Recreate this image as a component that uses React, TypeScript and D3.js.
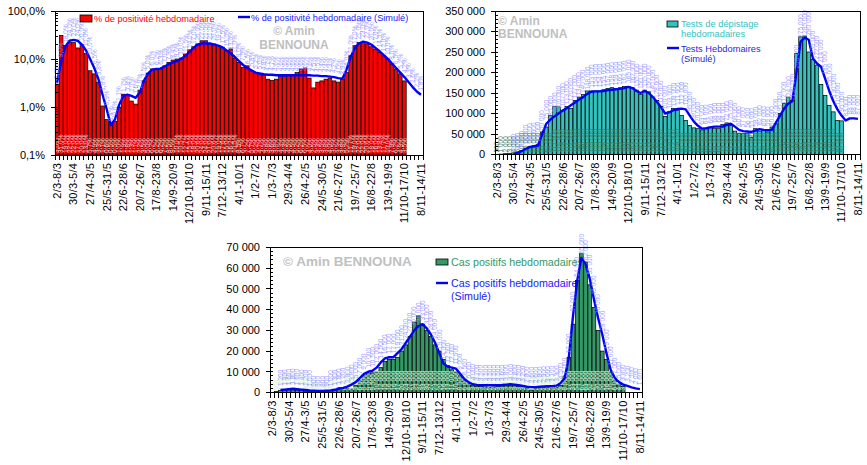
import * as d3 from 'd3'
import { useEffect, useRef } from 'react'

// weekly categories: 2/3/2020 -> 8/11/2021
const WEEK_COUNT = 89;
const TICK_STEP = 4;
const TICK_LABELS = ['2/3-8/3', '30/3-5/4', '27/4-3/5', '25/5-31/5', '22/6-28/6', '20/7-26/7', '17/8-23/8', '14/9-20/9',
    '12/10-18/10', '9/11-15/11', '7/12-13/12', '4/1-10/1', '1/2-7/2', '1/3-7/3', '29/3-4/4', '26/4-2/5', '24/5-30/5',
    '21/6-27/6', '19/7-25/7', '16/8-22/8', '13/9-19/9', '11/10-17/10', '8/11-14/11'];

// % de positivité hebdomadaire
const positivity = [
    3.0, 31, 19, 22, 22, 17, 20, 13, 5.7, 4.9,
    3.3, 1.05, 0.55, 0.45, 0.5, 1.0, 1.85, 1.8, 1.33, 1.15,
    2.2, 3.5, 5.0, 6.2, 6.2, 6.2, 7.2, 8.5, 9.5, 10,
    10.5, 12.7, 15.5, 18, 20.6, 24, 24, 21, 20.6, 19,
    17.6, 15, 16.2, 10.5, 8.5, 6.7, 7.2, 5.7, 5.2, 4.7,
    4.5, 3.8, 3.6, 3.8, 4.3, 4.3, 4.5, 4.5, 5.2, 6.2,
    6.5, 4.0, 2.5, 3.3, 3.5, 3.8, 4.0, 3.5, 3.3, 3.8,
    5.2, 11.7, 19, 22, 22, 20.6, 18, 16, 13.8, 11.7,
    10, 7.9, 6.2, 4.9, 3.5,
];
const positivitySim = [
    3.2, 9, 18, 24, 25, 24, 20, 15, 10, 6.5,
    3.8, 1.8, 0.9, 0.42, 0.55, 1.1, 1.7, 1.8, 1.7, 1.55,
    2.0, 3.5, 5.0, 6.0, 6.2, 6.3, 7.0, 7.8, 8.4, 9.0,
    10.0, 11.5, 14, 17, 20, 21, 21, 21, 20, 19,
    17.5, 15, 13, 11, 9, 7.5, 6.5, 5.8, 5.2, 5.0,
    4.8, 4.7, 4.7, 4.6, 4.6, 4.6, 4.6, 4.6, 4.6, 4.6,
    4.6, 4.6, 4.5, 4.5, 4.4, 4.4, 4.3, 4.2, 4.0, 3.9,
    6, 11, 17, 21, 23, 22, 20, 17, 14.5, 12,
    10, 8, 6.5, 5.2, 4.2, 3.3, 2.6, 2.1, 1.8,
];

// Tests de dépistage hebdomadaires
const tests = [
    500, 1000, 2000, 3000, 4000, 6000, 10000, 15000, 20000, 22000,
    24000, 55000, 67000, 95000, 117000, 116000, 108000, 117000, 112000, 132000,
    140000, 146000, 155000, 155000, 155000, 155000, 158000, 161000, 163000, 161000,
    163000, 166000, 166000, 163000, 157000, 147000, 157000, 153000, 140000, 132000,
    117000, 93000, 104000, 112000, 108000, 95000, 83000, 71000, 65000, 63000,
    60000, 63000, 67000, 64000, 63000, 73000, 77000, 71000, 57000, 52000,
    51000, 52000, 42000, 63000, 57000, 59000, 55000, 67000, 75000, 100000,
    124000, 140000, 132000, 246000, 287000, 289000, 250000, 232000, 218000, 171000,
    144000, 120000, 104000, 83000, 82000,
];
const testsSim = [
    null, null, null, null, 1000, 4000, 8000, 14000, 18000, 20000,
    22000, 50000, 75000, 85000, 93000, 100000, 107000, 113000, 120000, 127000,
    134000, 140000, 148000, 153000, 154000, 154000, 155000, 157000, 158000, 159000,
    160000, 162000, 165000, 162000, 155000, 150000, 155000, 150000, 140000, 128000,
    115000, 100000, 103000, 108000, 111000, 112000, 110000, 95000, 80000, 70000,
    63000, 64000, 66000, 68000, 68000, 68000, 72000, 75000, 68000, 60000,
    57000, 56000, 55000, 58000, 62000, 60000, 59000, 60000, 78000, 95000,
    112000, 124000, 130000, 200000, 275000, 285000, 280000, 235000, 222000, 214000,
    185000, 155000, 130000, 110000, 95000, 83000, 88000, 88000, 87000,
];

// Cas positifs hebdomadaires
const cases = [
    100, 500, 1000, 1200, 1400, 1300, 1200, 1000, 600, 500,
    400, 400, 500, 600, 800, 1500, 2500, 2200, 2000, 1800,
    3500, 6000, 8500, 9000, 9500, 10000, 12000, 15000, 16000, 16000,
    17000, 20000, 23000, 27000, 34000, 37000, 33000, 30000, 27000, 23000,
    20000, 16000, 13000, 11000, 10000, 8500, 6000, 4500, 3500, 3000,
    3000, 2700, 2500, 2700, 3000, 3200, 3500, 3300, 3300, 3000,
    3000, 2200, 1200, 2000, 2200, 2400, 2300, 2200, 2500, 3500,
    8000, 17000, 33000, 54000, 67000, 63000, 52000, 41000, 30000, 20000,
    16000, 10000, 6000, 4000, 3000,
];
const casesSim = [
    null, null, 1200, 1400, 1600, 1800, 1600, 1400, 1200, 1000,
    900, 800, 800, 900, 1000, 1300, 1800, 2200, 2800, 3800,
    5000, 7000, 9000, 10000, 10500, 12000, 14500, 16500, 17000, 17000,
    19000, 21000, 24000, 27000, 30000, 32000, 33000, 31000, 28000, 24000,
    19000, 14000, 12500, 12000, 11500, 9000, 6500, 5000, 4000, 3700,
    3500, 3500, 3500, 3500, 3500, 3600, 3800, 4000, 3800, 3500,
    3200, 2800, 2600, 2600, 2800, 2900, 3000, 3100, 3300, 4500,
    7000, 17000, 37000, 54000, 65000, 62000, 55000, 45000, 36000, 28000,
    19000, 11000, 7000, 5000, 3800, 3200, 2500, 2000, 1600,
];

const fr = d3.formatLocale({ decimal: ',', thousands: ' ', grouping: [3], currency: ['', ''] });
const fmtInt = fr.format(',d');
const fmtPct = (v: number) => fr.format('.1f')(v) + '%';

const FONT = 'Liberation Sans, Arial, sans-serif';
const BLUE = '#0000ff';

type Sel = d3.Selection<SVGGElement, unknown, null, undefined>;

interface PanelSpec {
    x0: number; x1: number; y0: number; y1: number;
    y: (v: number) => number;
    majorTicks: number[];
    minorTicks: number[];
    tickFmt: (v: number) => string;
    bars: number[];
    barFill: string;
    barLabelFill: string;
    sim: (number | null)[];
    labelFmt: (v: number) => string;
}

const drawPanel = (g: Sel, p: PanelSpec) => {
    const x = d3.scaleBand<number>()
        .domain(d3.range(WEEK_COUNT))
        .range([p.x0, p.x1])
        .paddingInner(0.12)
        .paddingOuter(0.06);
    const cx = (i: number) => x(i)! + x.bandwidth() / 2;

    // bars
    g.append('g').selectAll('rect').data(p.bars).join('rect')
        .attr('x', (_, i) => x(i)!)
        .attr('width', x.bandwidth())
        .attr('y', d => p.y(d))
        .attr('height', d => p.y1 - p.y(d))
        .attr('fill', p.barFill)
        .attr('stroke', '#000')
        .attr('stroke-width', 0.7);

    // data labels sitting at the base of the bars
    g.append('g').selectAll('text').data(p.bars).join('text')
        .attr('transform', (_, i) => `translate(${cx(i)},${p.y1 - 2}) rotate(-90)`)
        .attr('dy', '0.35em')
        .attr('font-size', 6.5)
        .attr('fill', p.barLabelFill)
        .text(d => p.labelFmt(d));

    // simulated line
    const line = d3.line<number | null>()
        .defined(d => d != null)
        .x((_, i) => cx(i))
        .y(d => p.y(d as number));
    g.append('path')
        .datum(p.sim)
        .attr('d', line)
        .attr('fill', 'none')
        .attr('stroke', BLUE)
        .attr('stroke-width', 2.4)
        .attr('stroke-linejoin', 'round');

    // line data labels (light blue, rotated)
    const pts = p.sim.map((v, i) => ({ v, i })).filter(d => d.v != null) as { v: number; i: number }[];
    g.append('g').selectAll('text').data(pts).join('text')
        .attr('transform', d => `translate(${cx(d.i)},${p.y(d.v) - 4}) rotate(-90)`)
        .attr('dy', '0.35em')
        .attr('font-size', 6.5)
        .attr('fill', '#8c8cff')
        .attr('fill-opacity', 0.85)
        .text(d => p.labelFmt(d.v));

    // frame + axes
    const ax = g.append('g').attr('stroke', '#000').attr('shape-rendering', 'crispEdges');
    ax.append('rect')
        .attr('x', p.x0).attr('y', p.y0)
        .attr('width', p.x1 - p.x0).attr('height', p.y1 - p.y0)
        .attr('fill', 'none');

    ax.selectAll('line.maj').data(p.majorTicks).join('line')
        .attr('class', 'maj')
        .attr('x1', p.x0 - 4).attr('x2', p.x0 + 3)
        .attr('y1', d => p.y(d)).attr('y2', d => p.y(d));
    ax.selectAll('line.min').data(p.minorTicks).join('line')
        .attr('class', 'min')
        .attr('x1', p.x0).attr('x2', p.x0 + 3)
        .attr('y1', d => p.y(d)).attr('y2', d => p.y(d));
    ax.selectAll('line.xt').data(d3.range(WEEK_COUNT + 1)).join('line')
        .attr('class', 'xt')
        .attr('x1', i => p.x0 + i * x.step()).attr('x2', i => p.x0 + i * x.step())
        .attr('y1', p.y1).attr('y2', p.y1 + 5);

    g.append('g').selectAll('text').data(p.majorTicks).join('text')
        .attr('x', p.x0 - 10)
        .attr('y', d => p.y(d))
        .attr('dy', '0.35em')
        .attr('text-anchor', 'end')
        .attr('font-size', 11)
        .attr('fill', '#000')
        .text(d => p.tickFmt(d));

    g.append('g').selectAll('text').data(TICK_LABELS).join('text')
        .attr('transform', (_, k) => `translate(${cx(k * TICK_STEP)},${p.y1 + 8}) rotate(-90)`)
        .attr('dy', '0.35em')
        .attr('text-anchor', 'end')
        .attr('font-size', 11)
        .attr('letter-spacing', 0.2)
        .attr('fill', '#000')
        .text(d => d);
};

const lineSwatch = (g: Sel, x: number, y: number) => {
    g.append('line').attr('x1', x).attr('x2', x + 12).attr('y1', y).attr('y2', y)
        .attr('stroke', BLUE).attr('stroke-width', 2.4);
};

const App = () => {
    const ref = useRef<SVGSVGElement>(null);

    useEffect(() => {
        const svg = d3.select(ref.current);
        svg.selectAll('*').remove();
        const root = svg.append('g').attr('font-family', FONT);

        // ---------- top left: positivity (log) ----------
        const a = root.append('g');
        a.append('text').attr('x', 294).attr('y', 35).attr('text-anchor', 'middle')
            .attr('font-size', 12).attr('font-weight', 'bold').attr('fill', '#c0c0c0').text('© Amin');
        a.append('text').attr('x', 294).attr('y', 49).attr('text-anchor', 'middle')
            .attr('font-size', 12).attr('font-weight', 'bold').attr('fill', '#c0c0c0').text('BENNOUNA');
        a.append('rect').attr('x', 80).attr('y', 15).attr('width', 12).attr('height', 7)
            .attr('fill', '#ff0000').attr('stroke', '#000').attr('stroke-width', 0.8);
        a.append('text').attr('x', 94).attr('y', 22).attr('font-size', 9.2).attr('fill', '#ff0000')
            .text('% de positivité hebdomadaire');
        lineSwatch(a, 238, 17);
        a.append('text').attr('x', 251).attr('y', 21).attr('font-size', 9.2).attr('fill', '#2020ff')
            .text('% de positivité hebdomadaire (Simulé)');

        const yA = d3.scaleLog().domain([0.1, 100]).range([155, 11]);
        const minorA: number[] = [];
        [0.1, 1, 10].forEach(dec => d3.range(2, 10).forEach(m => minorA.push(dec * m)));
        drawPanel(a, {
            x0: 55, x1: 423, y0: 11, y1: 155, y: yA,
            majorTicks: [0.1, 1, 10, 100], minorTicks: minorA,
            tickFmt: fmtPct,
            bars: positivity, barFill: '#ff0000', barLabelFill: '#f4c8c8',
            sim: positivitySim, labelFmt: fmtPct,
        });

        // ---------- top right: tests ----------
        const b = root.append('g');
        b.append('text').attr('x', 498).attr('y', 25)
            .attr('font-size', 12).attr('font-weight', 'bold').attr('fill', '#c0c0c0').text('© Amin');
        b.append('text').attr('x', 498).attr('y', 38)
            .attr('font-size', 12).attr('font-weight', 'bold').attr('fill', '#c0c0c0').text('BENNOUNA');
        b.append('rect').attr('x', 667).attr('y', 21).attr('width', 11).attr('height', 6)
            .attr('fill', '#33c3bf').attr('stroke', '#000').attr('stroke-width', 0.8);
        b.append('text').attr('x', 681).attr('y', 27).attr('font-size', 9.3).attr('fill', '#33c3bf')
            .text('Tests de dépistage');
        b.append('text').attr('x', 681).attr('y', 37).attr('font-size', 9.3).attr('fill', '#33c3bf')
            .text('hebdomadaires');
        lineSwatch(b, 667, 48);
        b.append('text').attr('x', 681).attr('y', 52).attr('font-size', 9.3).attr('fill', '#2a2ad0')
            .text('Tests Hebdomaires');
        b.append('text').attr('x', 681).attr('y', 62).attr('font-size', 9.3).attr('fill', '#2a2ad0')
            .text('(Simulé)');

        const yB = d3.scaleLinear().domain([0, 350000]).range([154.5, 11]);
        drawPanel(b, {
            x0: 495, x1: 860, y0: 11, y1: 154.5, y: yB,
            majorTicks: d3.range(0, 350001, 50000),
            minorTicks: d3.range(0, 350001, 10000),
            tickFmt: fmtInt,
            bars: tests, barFill: '#33c3bf', barLabelFill: '#3f7a5c',
            sim: testsSim, labelFmt: fmtInt,
        });

        // ---------- bottom: cases ----------
        const c = root.append('g');
        c.append('text').attr('x', 283).attr('y', 266)
            .attr('font-size', 13.5).attr('font-weight', 'bold').attr('fill', '#c0c0c0').text('© Amin BENNOUNA');
        c.append('rect').attr('x', 436).attr('y', 259).attr('width', 12).attr('height', 6)
            .attr('fill', '#339966').attr('stroke', '#000').attr('stroke-width', 0.8);
        c.append('text').attr('x', 451).attr('y', 266).attr('font-size', 10.7).attr('fill', '#339966')
            .text('Cas positifs hebdomadaires');
        lineSwatch(c, 436, 283);
        c.append('text').attr('x', 451).attr('y', 287).attr('font-size', 10.7).attr('fill', '#2020ff')
            .text('Cas positifs hebdomadaires');
        c.append('text').attr('x', 451).attr('y', 300).attr('font-size', 10.7).attr('fill', '#2020ff')
            .text('(Simulé)');

        const yC = d3.scaleLinear().domain([0, 70000]).range([392.5, 247.5]);
        drawPanel(c, {
            x0: 270, x1: 642, y0: 247.5, y1: 392.5, y: yC,
            majorTicks: d3.range(0, 70001, 10000),
            minorTicks: d3.range(0, 70001, 2000),
            tickFmt: fmtInt,
            bars: cases, barFill: '#339966', barLabelFill: '#d4ecd8',
            sim: casesSim, labelFmt: fmtInt,
        });

        return () => { svg.selectAll('*').remove(); };
    }, []);

    return (
        <svg ref={ref} width={867} height={465}
            style={{ position: 'absolute', left: 0, top: 0, background: '#fff' }} />
    );
};

export default App;
